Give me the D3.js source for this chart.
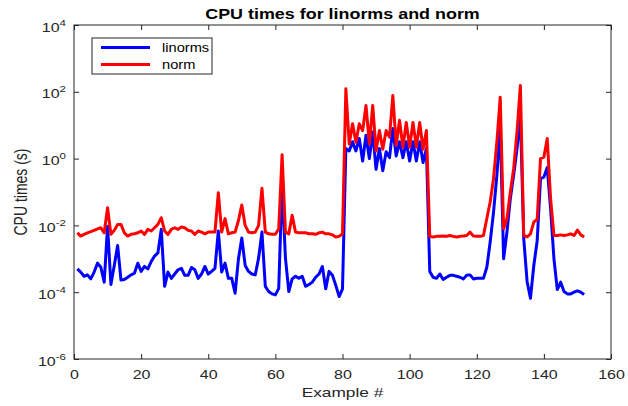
<!DOCTYPE html>
<html>
<head>
<meta charset="utf-8">
<script src="https://cdn.jsdelivr.net/npm/d3@7"></script>
<style>
  body { margin: 0; background: #fff; }
  text { font-family: "Liberation Sans", Arial, sans-serif; fill: #262626; }
</style>
</head>
<body>
<div id="chart"></div>
<script>
// CPU time per example (seconds), examples numbered 1..152
const examples = d3.range(1, 153);

const linorms = [
  5.0e-4, 4.0e-4, 3.0e-4, 3.3e-4, 2.5e-4, 4.0e-4, 7.4e-4, 5.6e-4, 2.0e-4, 9.5e-3,
  1.7e-4, 6.3e-4, 2.5e-3, 2.3e-4, 2.4e-4, 2.8e-4, 3.3e-4, 3.7e-4, 7.4e-4, 4.2e-4,
  5.9e-4, 5.0e-4, 8.3e-4, 1.2e-3, 1.5e-3, 7.6e-3, 1.5e-4, 4.0e-4, 2.6e-4, 3.5e-4,
  4.7e-4, 5.2e-4, 3.2e-4, 3.2e-4, 5.5e-4, 4.7e-4, 2.6e-4, 3.5e-4, 5.9e-4, 3.5e-4,
  4.2e-4, 5.2e-4, 6.8e-3, 4.0e-4, 7.4e-4, 2.6e-4, 2.6e-4, 9.3e-5, 1.0e-3, 4.2e-3,
  6.3e-4, 4.2e-4, 3.5e-4, 3.3e-4, 1.05e-3, 6.3e-3, 1.5e-4, 1.05e-4, 8.9e-5, 8.3e-5,
  1.3e-4, 0.18, 1.05e-3, 1.05e-4, 2.5e-4, 3.0e-4, 2.6e-4, 3.0e-4, 1.5e-4, 1.7e-4,
  2.0e-4, 2.8e-4, 3.5e-4, 5.9e-4, 1.26e-4, 4.2e-4, 3.2e-4, 1.6e-4, 7.4e-5, 1.26e-4,
  2.0, 1.7, 3.2, 1.7, 4.0, 0.85, 5.0, 1.0, 6.3, 0.48,
  2.0, 0.43, 1.6, 1.07, 7.9, 1.2, 3.2, 1.07, 3.2, 0.85,
  3.2, 0.85, 3.2, 0.76, 2.0, 4.2e-4, 2.8e-4, 2.6e-4, 3.5e-4, 2.4e-4,
  2.8e-4, 3.2e-4, 3.2e-4, 3.0e-4, 2.8e-4, 2.5e-4, 3.2e-4, 3.3e-4, 2.5e-4, 2.6e-4,
  2.6e-4, 2.6e-4, 5.6e-4, 3.2e-3, 2.5e-2, 0.32, 10, 1.0e-3, 6.3e-3, 6.3e-2,
  0.32, 2.0, 20, 4.0e-3, 2.1e-4, 6.6e-5, 6.3e-4, 3.4e-3, 0.25, 0.28,
  0.54, 3.2e-2, 1.0e-3, 1.2e-4, 2.0e-4, 1.05e-4, 8.9e-5, 8.9e-5, 1.0e-4, 1.1e-4,
  1.0e-4, 8.5e-5
];

const norm = [
  6.0e-3, 4.8e-3, 5.4e-3, 6.0e-3, 6.5e-3, 7.1e-3, 7.9e-3, 8.5e-3, 6.0e-3, 3.4e-2,
  5.4e-3, 7.1e-3, 1.07e-2, 1.07e-2, 6.0e-3, 4.8e-3, 5.4e-3, 5.6e-3, 6.0e-3, 6.8e-3,
  5.4e-3, 7.6e-3, 6.8e-3, 8.5e-3, 1.07e-2, 1.7e-2, 6.8e-3, 5.4e-3, 7.6e-3, 8.5e-3,
  7.6e-3, 8.9e-3, 8.5e-3, 7.1e-3, 6.8e-3, 5.4e-3, 6.8e-3, 6.3e-3, 5.6e-3, 6.3e-3,
  6.3e-3, 6.3e-3, 9.5e-2, 6.3e-3, 1.6e-2, 5.6e-3, 6.0e-3, 6.3e-3, 1.4e-2, 4.1e-2,
  1.0e-2, 6.3e-3, 6.0e-3, 6.3e-3, 1.0e-2, 0.13, 6.3e-3, 5.6e-3, 5.4e-3, 5.4e-3,
  7.9e-3, 1.3, 6.3e-3, 5.6e-3, 2.0e-2, 6.3e-3, 6.0e-3, 6.0e-3, 6.0e-3, 5.6e-3,
  5.6e-3, 5.4e-3, 6.0e-3, 6.3e-3, 5.6e-3, 5.6e-3, 5.2e-3, 4.5e-3, 4.7e-3, 5.6e-3,
  123, 2.75, 11, 3.1, 11, 6.9, 39, 2.75, 39, 1.7,
  6.9, 1.9, 6.9, 4.4, 78, 2.5, 14, 2.2, 12, 2.2,
  12, 2.2, 12, 1.9, 6.9, 4.7e-3, 4.5e-3, 4.7e-3, 4.7e-3, 4.8e-3,
  4.7e-3, 5.0e-3, 4.7e-3, 4.5e-3, 4.7e-3, 4.8e-3, 5.0e-3, 6.3e-3, 4.8e-3, 4.7e-3,
  4.7e-3, 5.0e-3, 1.6e-2, 5.0e-2, 0.25, 3.2, 69, 7.9e-3, 1.6e-2, 0.1,
  0.5, 6.3, 155, 5.0e-3, 4.5e-3, 5.6e-3, 1.26e-2, 1.5e-2, 1.0, 1.1,
  4.0, 6.3e-2, 5.0e-3, 5.0e-3, 5.2e-3, 5.0e-3, 5.2e-3, 5.6e-3, 5.0e-3, 7.2e-3,
  5.2e-3, 4.5e-3
];

const seriesNames = ["linorms", "norm"];
const seriesColors = ["#0000ff", "#ff0000"];
const xTicks = [0, 20, 40, 60, 80, 100, 120, 140, 160];
const yExponents = [-6, -4, -2, 0, 2, 4];

const width = 628, height = 406;
const margin = {top: 25, right: 17, bottom: 47, left: 74};
// the source figure is stretched sideways, so text is wider than tall
const stretch = "scale(1.28,1)";

const svg = d3.select("#chart").append("svg")
    .attr("width", width)
    .attr("height", height);

const x = d3.scaleLinear().domain([0, 160]).range([margin.left, width - margin.right]);
const y = d3.scaleLog().domain([1e-6, 1e4]).range([height - margin.bottom, margin.top]);

// box
svg.append("rect")
    .attr("x", margin.left)
    .attr("y", margin.top)
    .attr("width", x(160) - x(0))
    .attr("height", y(1e-6) - y(1e4))
    .attr("fill", "#fff")
    .attr("stroke", "#262626")
    .attr("stroke-width", 1);

// ticks inward, on all four sides
const tickLen = 5;
const yTickVals = yExponents.map(e => Math.pow(10, e));

const xAxisB = d3.axisBottom(x).tickValues(xTicks).tickSize(-tickLen).tickPadding(11);
const xAxisT = d3.axisTop(x).tickValues(xTicks).tickSize(-tickLen).tickFormat("");
const yAxisL = d3.axisLeft(y).tickValues(yTickVals).tickSize(-tickLen).tickFormat("");
const yAxisR = d3.axisRight(y).tickValues(yTickVals).tickSize(-tickLen).tickFormat("");

function styleAxis(g) {
  g.select(".domain").remove();
  g.selectAll(".tick line").attr("stroke", "#262626");
  g.selectAll(".tick text").attr("fill", "#262626").style("font-size", "12.5px")
    .style("font-family", "'Liberation Sans', Arial, sans-serif")
    .attr("transform", stretch);
}

svg.append("g").attr("transform", `translate(0,${y(1e-6)})`).call(xAxisB).call(styleAxis);
svg.append("g").attr("transform", `translate(0,${y(1e4)})`).call(xAxisT).call(styleAxis);
svg.append("g").attr("transform", `translate(${x(0)},0)`).call(yAxisL).call(styleAxis);
svg.append("g").attr("transform", `translate(${x(160)},0)`).call(yAxisR).call(styleAxis);

// y tick labels as 10^n
yExponents.forEach(e => {
  const t = svg.append("g")
      .attr("transform", `translate(${x(0) - 8},${y(Math.pow(10, e)) + 6.5})`)
    .append("text")
      .attr("transform", stretch)
      .attr("text-anchor", "end")
      .style("font-size", "12.5px");
  t.append("tspan").text("10");
  t.append("tspan").attr("dy", -6).style("font-size", "9px").text(e);
});

// lines
const line = d3.line()
    .x((d, i) => x(examples[i]))
    .y(d => y(d));

[linorms, norm].forEach((vals, k) => {
  svg.append("path")
      .datum(vals)
      .attr("fill", "none")
      .attr("stroke", seriesColors[k])
      .attr("stroke-width", 3)
      .attr("stroke-linejoin", "round")
      .attr("d", line);
});

// title and axis labels
svg.append("g")
    .attr("transform", `translate(${(x(0) + x(160)) / 2},19)`)
  .append("text")
    .attr("transform", stretch)
    .attr("text-anchor", "middle")
    .style("font-size", "14px")
    .style("font-weight", "bold")
    .style("fill", "#000")
    .text("CPU times for linorms and norm");

svg.append("g")
    .attr("transform", `translate(${(x(0) + x(160)) / 2},397)`)
  .append("text")
    .attr("transform", stretch)
    .attr("text-anchor", "middle")
    .style("font-size", "13.5px")
    .text("Example #");

svg.append("g")
    .attr("transform", `translate(27,${(y(1e-6) + y(1e4)) / 2})`)
  .append("text")
    .attr("transform", "scale(1.28,1) rotate(-90)")
    .attr("text-anchor", "middle")
    .style("font-size", "14px")
    .text("CPU times (s)");

// legend
const legend = svg.append("g").attr("transform", "translate(92,38)");
legend.append("rect")
    .attr("width", 120)
    .attr("height", 36)
    .attr("fill", "#fff")
    .attr("stroke", "#262626")
    .attr("stroke-width", 1);

seriesNames.forEach((name, i) => {
  const g = legend.append("g").attr("transform", `translate(0,${9.5 + i * 17})`);
  g.append("line")
      .attr("x1", 9).attr("x2", 58)
      .attr("y1", 0).attr("y2", 0)
      .attr("stroke", seriesColors[i])
      .attr("stroke-width", 3);
  g.append("g")
      .attr("transform", "translate(70,4.5)")
    .append("text")
      .attr("transform", "scale(1.22,1)")
      .style("font-size", "12px")
      .style("fill", "#000")
      .text(name);
});
</script>
</body>
</html>
